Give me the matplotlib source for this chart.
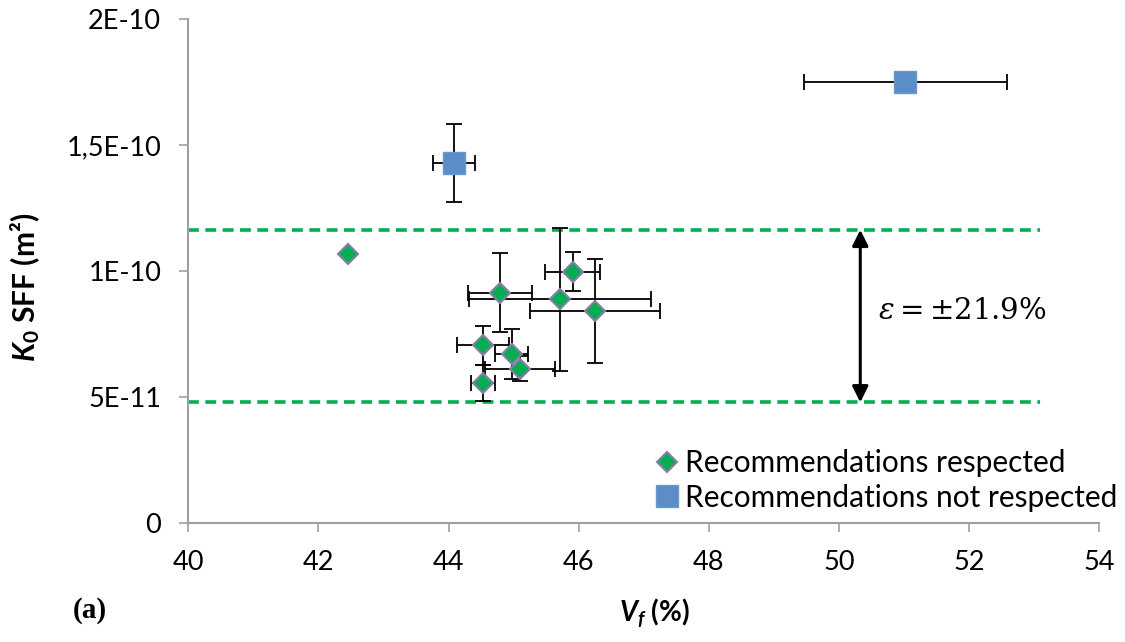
import numpy as np
import matplotlib
matplotlib.use("Agg")
import matplotlib.pyplot as plt

plt.rcParams['font.family'] = ['Lato', 'DejaVu Sans']
plt.rcParams['mathtext.fontset'] = 'custom'
plt.rcParams['mathtext.rm'] = 'Lato:bold'
plt.rcParams['mathtext.it'] = 'Lato:bold:italic'
plt.rcParams['mathtext.bf'] = 'Lato:bold'

# K0 SFF values in units of 1e-10 m^2
resp_vf = [42.45, 44.79, 45.91, 45.72, 46.25, 44.53, 44.97, 45.10, 44.53]
resp_k = [1.067, 0.914, 0.997, 0.887, 0.841, 0.704, 0.671, 0.612, 0.555]
resp_vf_err = [0.0, 0.49, 0.42, 1.40, 1.00, 0.40, 0.25, 0.54, 0.18]
resp_k_err = [0.0, 0.155, 0.077, 0.283, 0.207, 0.077, 0.10, 0.05, 0.073]

notresp_vf = [44.08, 51.02]
notresp_k = [1.428, 1.750]
notresp_vf_err = [0.32, 1.56]
notresp_k_err = [0.154, 0.04]

band_hi = 1.163
band_lo = 0.478
band_x = [40, 53.1]
arrow_x = 50.33

yticks = [0, 0.5, 1.0, 1.5, 2.0]
ytick_labels = ['0', '5E-11', '1E-10', '1,5E-10', '2E-10']
xticks = [40, 42, 44, 46, 48, 50, 52, 54]

fig = plt.figure(figsize=(11.25, 6.42), dpi=100)
ax = fig.add_axes([0.1674, 0.1858, 0.8095, 0.7846])

green = '#00B050'
ax.plot(band_x, [band_hi, band_hi], color=green, lw=2.6, dashes=(3.0, 1.8), zorder=1)
ax.plot(band_x, [band_lo, band_lo], color=green, lw=2.6, dashes=(3.0, 1.8), zorder=1)

ax.errorbar(resp_vf, resp_k, xerr=resp_vf_err, yerr=resp_k_err, fmt='none',
            ecolor='black', elinewidth=1.3, capsize=6, capthick=1.3, zorder=2)
ax.plot(resp_vf, resp_k, 'D', ms=10.5, mfc=green, mec='#8C7BAA', mew=1.5,
        ls='none', zorder=3, label='Recommendations respected')

ax.errorbar(notresp_vf, notresp_k, xerr=notresp_vf_err, yerr=notresp_k_err, fmt='none',
            ecolor='black', elinewidth=1.3, capsize=6, capthick=1.3, zorder=2)
ax.plot(notresp_vf, notresp_k, 's', ms=15.5, mfc='#5B8EC8', mec='#6A98CE', mew=1,
        ls='none', zorder=3, label='Recommendations not respected')

ax.annotate('', xy=(arrow_x, band_hi), xytext=(arrow_x, band_lo),
            arrowprops=dict(arrowstyle='<|-|>', color='black', lw=2.2,
                            mutation_scale=24, shrinkA=0, shrinkB=0), zorder=4)
ax.text(50.6, 0.84, r'$\varepsilon = {\pm}21.9\%$', fontsize=21,
        math_fontfamily='dejavuserif', va='center', ha='left', color='black')

ax.set_xlim(40, 54)
ax.set_ylim(0, 2.0)
ax.set_xticks(xticks)
ax.set_yticks(yticks)
ax.set_yticklabels(ytick_labels)
ax.tick_params(axis='both', direction='out', length=6.5, width=1.2, color='#A0A0A0',
               labelsize=19.5)
ax.tick_params(axis='x', pad=13)
ax.tick_params(axis='y', pad=13)
for s in ['top', 'right']:
    ax.spines[s].set_visible(False)
for s in ['left', 'bottom']:
    ax.spines[s].set_color('#A0A0A0')
    ax.spines[s].set_linewidth(1.5)

ax.legend(loc='upper left', bbox_to_anchor=(655 / 1125, 1 - 449 / 642),
          bbox_transform=fig.transFigure, frameon=False, fontsize=21.5,
          handletextpad=0.2, handlelength=0.8, labelspacing=0.22,
          borderaxespad=0, borderpad=0)

fig.text(25 / 1125, 1 - 287 / 642, r'$K_{0}$ SFF (m²)', rotation=90, ha='center', va='center',
         fontsize=21.5, fontweight='bold')
fig.text(654 / 1125, 1 - 613 / 642, r'$V_f$ (%)', ha='center', va='center',
         fontsize=20, fontweight='bold')
fig.text(90 / 1125, 1 - 610 / 642, '(a)', ha='center', va='center', fontsize=21,
         fontweight='bold', family='Liberation Serif')

fig.savefig('out.png', dpi=100)
